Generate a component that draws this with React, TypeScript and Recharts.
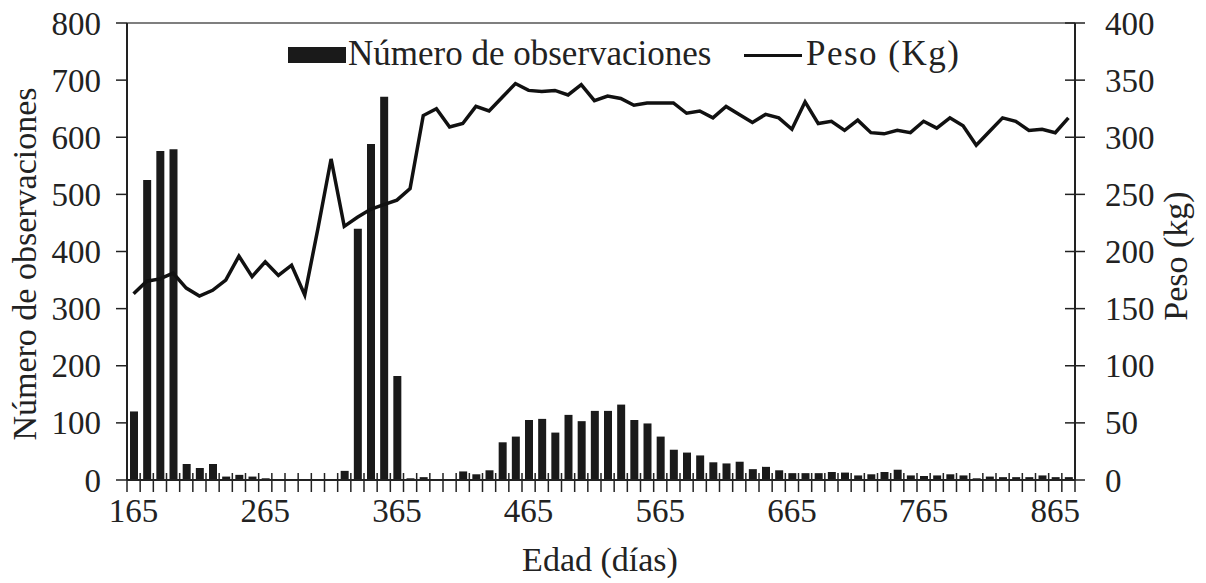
import React from "react";
import {
  ComposedChart,
  Bar,
  Line,
  XAxis,
  YAxis,
  ReferenceLine,
} from "recharts";

// edad (días), one bar every 10 days
const edad = [
  165, 175, 185, 195, 205, 215, 225, 235, 245, 255, 265, 275, 285, 295, 305, 315, 325, 335,
  345, 355, 365, 375, 385, 395, 405, 415, 425, 435, 445, 455, 465, 475, 485, 495, 505, 515,
  525, 535, 545, 555, 565, 575, 585, 595, 605, 615, 625, 635, 645, 655, 665, 675, 685, 695,
  705, 715, 725, 735, 745, 755, 765, 775, 785, 795, 805, 815, 825, 835, 845, 855, 865, 875,
];

const observaciones = [
  120, 525, 576, 579, 28, 21, 28, 6, 9, 6, 3, 1, 1, 1, 1, 1, 16, 440,
  588, 671, 182, 3, 5, 1, 1, 15, 10, 17, 66, 76, 105, 107, 83, 114, 103, 121,
  121, 132, 105, 99, 76, 53, 48, 43, 31, 29, 32, 19, 23, 17, 12, 12, 12, 14,
  13, 8, 10, 14, 18, 8, 7, 8, 10, 8, 3, 6, 5, 5, 5, 8, 5, 5,
];

const peso = [
  163, 174, 176, 181, 168, 161, 166, 175, 196, 178, 191, 179, 188, 162, 220, 281, 222, 230,
  237, 241, 245, 255, 319, 325, 309, 312, 327, 323, 335, 347, 341, 340, 341, 337, 346, 332,
  336, 334, 328, 330, 330, 330, 321, 323, 317, 327, 320, 313, 320, 317, 307, 331, 312, 314,
  306, 315, 304, 303, 306, 304, 314, 308, 317, 310, 293, 305, 317, 314, 306, 307, 304, 317,
];

const xLabels = [165, 265, 365, 465, 565, 665, 765, 865];
const leftTicks = [0, 100, 200, 300, 400, 500, 600, 700, 800];
const rightTicks = [0, 50, 100, 150, 200, 250, 300, 350, 400];

const serieBarras = "Número de observaciones";
const serieLinea = "Peso (Kg)";
const tituloX = "Edad (días)";
const tituloYIzq = "Número de observaciones";
const tituloYDer = "Peso (kg)";

const data = edad.map((e, i) => ({ edad: e, obs: observaciones[i], peso: peso[i] }));

const W = 1206;
const H = 583;
const PLOT_LEFT = 127;
const PLOT_RIGHT = 1075;
const BAND = (PLOT_RIGHT - PLOT_LEFT) / edad.length;
const FONT = "'Liberation Serif', 'Times New Roman', serif";
const INK = "#222";
const TICK_FONT = 33;

const XTick = (props: any) => {
  const { x, y, payload, index } = props;
  const half = BAND / 2;
  const v = Number(payload.value);
  return (
    <g>
      <line x1={x - half} x2={x - half} y1={y - 7} y2={y + 12} stroke={INK} strokeWidth={1.5} />
      {index === edad.length - 1 && (
        <line x1={x + half} x2={x + half} y1={y - 7} y2={y + 12} stroke={INK} strokeWidth={1.5} />
      )}
      {xLabels.includes(v) && (
        <text x={x} y={y + 42} textAnchor="middle" fontFamily={FONT} fontSize={TICK_FONT} fill={INK}>
          {v}
        </text>
      )}
    </g>
  );
};

const LeftTick = (props: any) => {
  const { x, y, payload } = props;
  return (
    <g>
      <line x1={x - 11} x2={x} y1={y} y2={y} stroke={INK} strokeWidth={1.5} />
      <text x={x - 26} y={y} dy="0.35em" textAnchor="end" fontFamily={FONT} fontSize={TICK_FONT} fill={INK}>
        {payload.value}
      </text>
    </g>
  );
};

const RightTick = (props: any) => {
  const { x, y, payload } = props;
  return (
    <g>
      <line x1={x - 10} x2={x + 10} y1={y} y2={y} stroke={INK} strokeWidth={1.5} />
      <text x={x + 30} y={y} dy="0.35em" textAnchor="start" fontFamily={FONT} fontSize={TICK_FONT} fill={INK}>
        {payload.value}
      </text>
    </g>
  );
};

const textStyle: React.CSSProperties = {
  position: "absolute",
  fontFamily: FONT,
  fontSize: 34,
  lineHeight: "34px",
  color: INK,
  whiteSpace: "nowrap",
};

export default function App() {
  return (
    <div style={{ position: "absolute", left: 0, top: 0, width: W, height: H, background: "#fff" }}>
      <ComposedChart
        width={W}
        height={H}
        data={data}
        margin={{ top: 23, right: W - PLOT_RIGHT - 80, bottom: 43, left: PLOT_LEFT - 80 }}
      >
        <XAxis
          dataKey="edad"
          interval={0}
          tickLine={false}
          tickSize={0}
          tickMargin={0}
          height={60}
          axisLine={{ stroke: INK, strokeWidth: 2 }}
          tick={<XTick />}
        />
        <YAxis
          yAxisId="left"
          domain={[0, 800]}
          ticks={leftTicks}
          width={80}
          tickLine={false}
          tickSize={0}
          tickMargin={0}
          axisLine={{ stroke: INK, strokeWidth: 2 }}
          tick={<LeftTick />}
        />
        <YAxis
          yAxisId="right"
          orientation="right"
          domain={[0, 400]}
          ticks={rightTicks}
          width={80}
          tickLine={false}
          tickSize={0}
          tickMargin={0}
          axisLine={{ stroke: INK, strokeWidth: 2 }}
          tick={<RightTick />}
        />
        <ReferenceLine yAxisId="left" y={800} stroke="#555" strokeWidth={1.5} />
        <Bar yAxisId="left" dataKey="obs" name={serieBarras} fill="#1a1a1a" barSize={8} isAnimationActive={false} />
        <Line
          yAxisId="right"
          dataKey="peso"
          name={serieLinea}
          type="linear"
          stroke="#111"
          strokeWidth={3.5}
          dot={false}
          isAnimationActive={false}
        />
      </ComposedChart>

      {/* legend */}
      <div style={{ position: "absolute", left: 288, top: 47, width: 58, height: 16, background: "#1a1a1a" }} />
      <div style={{ ...textStyle, fontSize: 35, left: 348, top: 37 }}>{serieBarras}</div>
      <div style={{ position: "absolute", left: 744, top: 54, width: 58, height: 3, background: "#111" }} />
      <div style={{ ...textStyle, fontSize: 35, letterSpacing: 1.5, left: 806, top: 37 }}>{serieLinea}</div>

      {/* axis titles */}
      <div style={{ ...textStyle, left: 600, top: 560, transform: "translate(-50%, -50%)" }}>{tituloX}</div>
      <div style={{ ...textStyle, left: 25, top: 264, transform: "translate(-50%, -50%) rotate(-90deg)" }}>
        {tituloYIzq}
      </div>
      <div style={{ ...textStyle, left: 1176, top: 256, transform: "translate(-50%, -50%) rotate(-90deg)" }}>
        {tituloYDer}
      </div>
    </div>
  );
}
